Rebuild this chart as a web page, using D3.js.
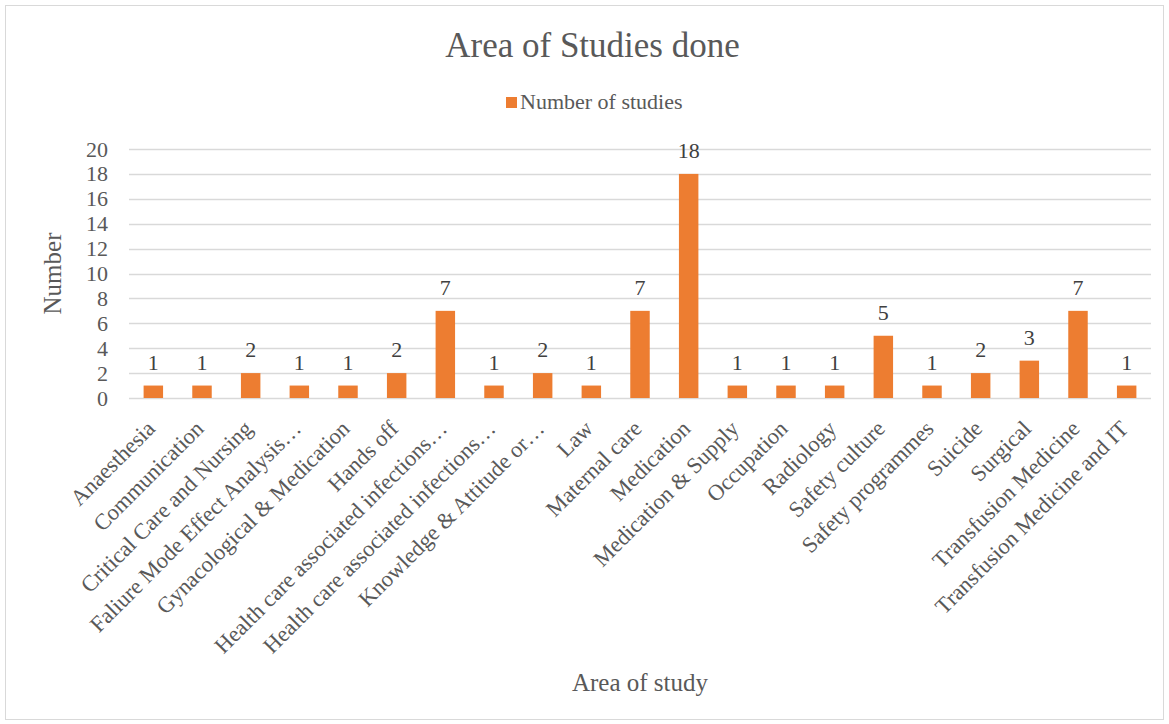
<!DOCTYPE html>
<html>
<head>
<meta charset="utf-8">
<script src="https://cdn.jsdelivr.net/npm/d3@7"></script>
<style>
  body { margin: 0; background: #fff; }
  text { font-family: "Liberation Serif", "Times New Roman", serif; }
</style>
</head>
<body>
<div id="chart"></div>
<script>
// Data
const categories = [
    'Anaesthesia', 'Communication', 'Critical Care and Nursing',
    'Faliure Mode Effect Analysis…', 'Gynacological & Medication', 'Hands off',
    'Health care associated infections…', 'Health care associated infections…',
    'Knowledge & Attitude or…', 'Law', 'Maternal care', 'Medication',
    'Medication & Supply', 'Occupation', 'Radiology', 'Safety culture',
    'Safety programmes', 'Suicide', 'Surgical', 'Transfusion Medicine',
    'Transfusion Medicine and IT'
];
const studies = [1, 1, 2, 1, 1, 2, 7, 1, 2, 1, 7, 18, 1, 1, 1, 5, 1, 2, 3, 7, 1];
const yTicks = [0, 2, 4, 6, 8, 10, 12, 14, 16, 18, 20];

const width = 1169, height = 724;
const margin = {top: 149, right: 18, bottom: 326, left: 129};

const svg = d3.select('#chart')
    .append('svg')
    .attr('width', width)
    .attr('height', height);

// Chart border
svg.append('rect')
    .attr('x', 5.5).attr('y', 5.5)
    .attr('width', width - 11).attr('height', height - 10)
    .attr('fill', '#fff')
    .attr('stroke', '#d9d9d9');

const x = d3.scaleBand()
    .domain(d3.range(categories.length))
    .range([margin.left, width - margin.right])
    .paddingInner(0.6)
    .paddingOuter(0.3);

const y = d3.scaleLinear()
    .domain([0, 20])
    .range([height - margin.bottom, margin.top]);

// Gridlines
svg.append('g')
    .selectAll('line')
    .data(yTicks)
    .enter()
    .append('line')
    .attr('x1', margin.left)
    .attr('x2', width - margin.right)
    .attr('y1', d => Math.round(y(d)) + 0.5)
    .attr('y2', d => Math.round(y(d)) + 0.5)
    .attr('stroke', '#d9d9d9')
    .attr('stroke-width', 1.3);

// Y axis labels
const yAxis = svg.append('g')
    .attr('transform', `translate(${margin.left - 21},0)`)
    .call(d3.axisLeft(y).tickValues(yTicks).tickSize(0).tickPadding(0));
yAxis.select('.domain').remove();
yAxis.selectAll('text')
    .attr('font-family', '"Liberation Serif", serif')
    .attr('font-size', 22)
    .attr('fill', '#595959');

// Bars
svg.selectAll('.bar')
    .data(studies)
    .enter()
    .append('rect')
    .attr('class', 'bar')
    .attr('x', (d, i) => x(i))
    .attr('y', d => y(d))
    .attr('width', x.bandwidth())
    .attr('height', d => y(0) - y(d))
    .attr('fill', '#ed7d31');

// Data labels
svg.selectAll('.value')
    .data(studies)
    .enter()
    .append('text')
    .attr('class', 'value')
    .attr('x', (d, i) => x(i) + x.bandwidth() / 2)
    .attr('y', d => y(d) - 16)
    .attr('text-anchor', 'middle')
    .attr('font-size', 22)
    .attr('fill', '#404040')
    .text(d => d);

// X axis labels
const xAxis = svg.append('g')
    .attr('transform', `translate(0,${height - margin.bottom})`)
    .call(d3.axisBottom(x).tickFormat(i => categories[i]).tickSize(0).tickPadding(0));
xAxis.select('.domain').remove();
xAxis.selectAll('text')
    .attr('font-family', '"Liberation Serif", serif')
    .attr('font-size', 22.5)
    .attr('fill', '#595959')
    .attr('text-anchor', 'end')
    .attr('dy', 0)
    .attr('y', 0)
    .attr('transform', 'translate(3,32) rotate(-45)');

// Title
svg.append('text')
    .attr('x', width / 2 + 8)
    .attr('y', 57)
    .attr('text-anchor', 'middle')
    .attr('font-size', 35)
    .attr('fill', '#595959')
    .text('Area of Studies done');

// Legend
const legend = svg.append('g').attr('transform', 'translate(506,97)');
legend.append('rect')
    .attr('width', 11).attr('height', 11)
    .attr('fill', '#ed7d31');
legend.append('text')
    .attr('x', 14)
    .attr('y', 12)
    .attr('font-size', 22)
    .attr('fill', '#595959')
    .text('Number of studies');

// Axis titles
svg.append('text')
    .attr('transform', `translate(61,${(margin.top + height - margin.bottom) / 2}) rotate(-90)`)
    .attr('text-anchor', 'middle')
    .attr('font-size', 25)
    .attr('fill', '#595959')
    .text('Number');

svg.append('text')
    .attr('x', 640)
    .attr('y', 691)
    .attr('text-anchor', 'middle')
    .attr('font-size', 25)
    .attr('fill', '#595959')
    .text('Area of study');
</script>
</body>
</html>
